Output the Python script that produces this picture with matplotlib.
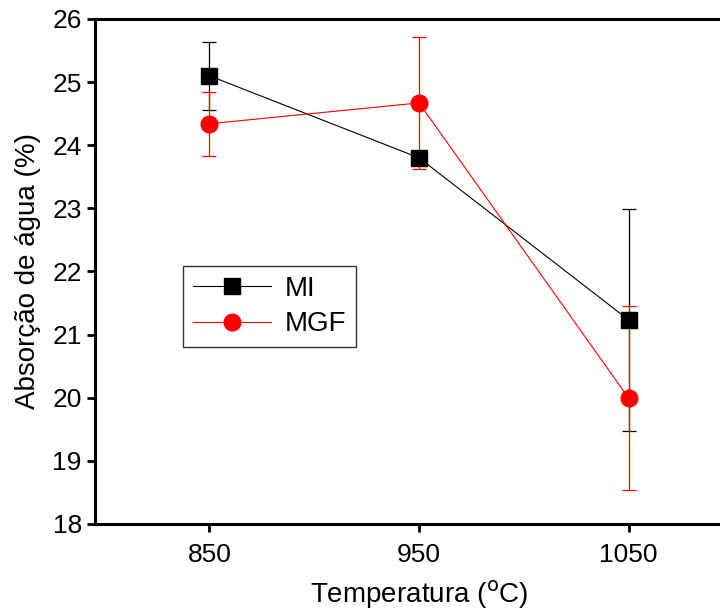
import numpy as np
import matplotlib.pyplot as plt
from matplotlib.lines import Line2D

plt.rcParams['font.family'] = ['Liberation Sans', 'DejaVu Sans']

# Data
temp = [850, 950, 1050]
mi = [25.10, 23.80, 21.23]
mi_err = [0.54, 0.10, 1.76]
mgf = [24.34, 24.67, 19.99]
mgf_err = [0.51, 1.05, 1.46]

fig = plt.figure(figsize=(7.2, 6.12), dpi=100)
ax = fig.add_axes([0.132, 0.144, 0.90, 0.825])

ax.errorbar(temp, mi, yerr=mi_err, color='black', marker='s', markersize=11,
            linewidth=0.8, elinewidth=0.9, capsize=5, capthick=0.9)
ax.errorbar(temp, mgf, yerr=mgf_err, color='red', marker='o', markersize=12,
            linewidth=0.8, elinewidth=0.9, capsize=5, capthick=0.9)

ax.set_xlim(795.5, 1104.5)
ax.set_ylim(18, 26)
ax.set_xticks(temp)
ax.set_yticks(range(18, 27))
ax.tick_params(direction='out', length=6, width=2, labelsize=19)
ax.tick_params(axis='x', pad=8)
for s in ax.spines.values():
    s.set_linewidth(2.2)

ax.set_xlabel('Temperatura ($^{\\mathrm{o}}$C)', fontsize=20, labelpad=8)
ax.set_ylabel('Absorção de água (%)', fontsize=20, labelpad=8)

handles = [Line2D([], [], color='black', marker='s', markersize=11, linewidth=0.8),
           Line2D([], [], color='red', marker='o', markersize=12, linewidth=0.8)]
leg = ax.legend(handles, ['MI', 'MGF'], loc='upper left',
                bbox_to_anchor=(0.136, 0.511), borderaxespad=0, fontsize=20,
                frameon=True, fancybox=False, edgecolor='black',
                handlelength=2.8, borderpad=0.35, labelspacing=0.35,
                handletextpad=0.5)
leg.get_frame().set_linewidth(1.0)

fig.savefig('out.png', dpi=100)
